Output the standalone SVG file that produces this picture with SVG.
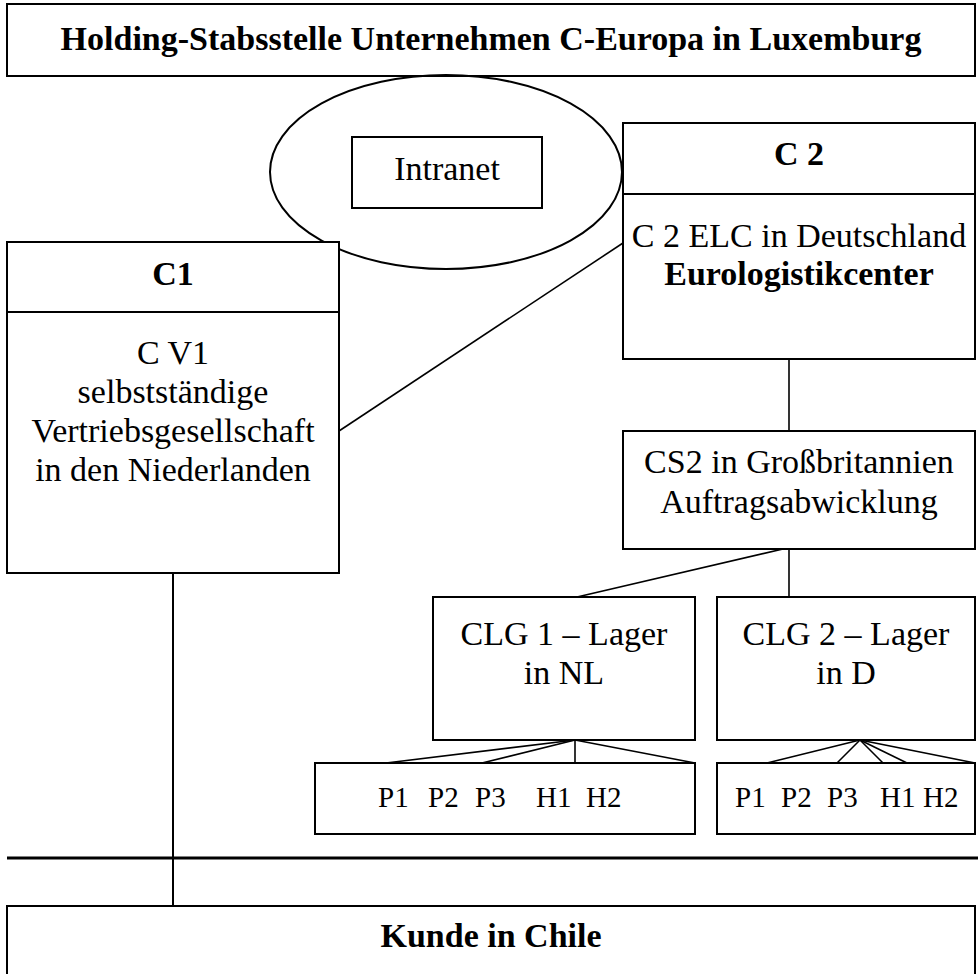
<svg xmlns="http://www.w3.org/2000/svg" width="978" height="974" viewBox="0 0 978 974">
<style>
.box{fill:#fff;stroke:#000;stroke-width:2}
.ln{fill:none;stroke:#000;stroke-width:1.6}
.thick{stroke-width:3}
.med{stroke-width:2}
.t{font-family:"Liberation Serif","Times New Roman",serif;font-size:34px;fill:#000;text-anchor:middle}
.b{font-weight:bold}
.s{font-family:"Liberation Serif","Times New Roman",serif;font-size:29px;fill:#000}
</style>
<rect width="978" height="974" fill="#fff"/>
<g id="holding">
<rect class="box" x="7" y="4" width="968" height="72"/>
<text class="t b" x="491" y="50">Holding-Stabsstelle Unternehmen C-Europa in Luxemburg</text>
</g>
<g id="intranet">
<ellipse class="ln med" cx="446" cy="172" rx="176" ry="97"/>
<rect class="box" x="352" y="137" width="190" height="71"/>
<text class="t" x="447" y="180">Intranet</text>
</g>
<g id="connectors">
<line class="ln" x1="339" y1="431" x2="623" y2="243"/>
<line class="ln" x1="789" y1="359" x2="789" y2="431"/>
<line class="ln" x1="789" y1="549" x2="789" y2="597"/>
<line class="ln" x1="783" y1="549" x2="577" y2="597"/>
<line class="ln" x1="575" y1="740" x2="386" y2="763"/>
<line class="ln" x1="575" y1="740" x2="482" y2="763"/>
<line class="ln" x1="575" y1="740" x2="575" y2="763"/>
<line class="ln" x1="575" y1="740" x2="695" y2="763"/>
<line class="ln" x1="860" y1="740" x2="767" y2="763"/>
<line class="ln" x1="860" y1="740" x2="837" y2="763"/>
<line class="ln" x1="860" y1="740" x2="883" y2="763"/>
<line class="ln" x1="860" y1="740" x2="907" y2="763"/>
<line class="ln" x1="860" y1="740" x2="975" y2="763"/>
<line class="ln med" x1="173" y1="573" x2="173" y2="906"/>
<line class="ln thick" x1="7" y1="858" x2="978" y2="858"/>
</g>
<g id="c1">
<rect class="box" x="7" y="242" width="332" height="331"/>
<line class="ln med" x1="7" y1="312" x2="339" y2="312"/>
<text class="t b" x="173" y="285">C1</text>
<text class="t" x="173" y="364">C V1</text>
<text class="t" x="173" y="403">selbstständige</text>
<text class="t" x="173" y="442">Vertriebsgesellschaft</text>
<text class="t" x="173" y="481">in den Niederlanden</text>
</g>
<g id="c2">
<rect class="box" x="623" y="123" width="352" height="236"/>
<line class="ln med" x1="623" y1="194" x2="975" y2="194"/>
<text class="t b" x="799" y="165">C 2</text>
<text class="t" x="799" y="247">C 2 ELC in Deutschland</text>
<text class="t b" x="799" y="285">Eurologistikcenter</text>
</g>
<g id="cs2">
<rect class="box" x="623" y="431" width="352" height="118"/>
<text class="t" x="799" y="473">CS2 in Großbritannien</text>
<text class="t" x="799" y="513">Auftragsabwicklung</text>
</g>
<g id="clg1">
<rect class="box" x="433" y="597" width="262" height="143"/>
<text class="t" x="564" y="645">CLG 1 – Lager</text>
<text class="t" x="564" y="684">in NL</text>
</g>
<g id="clg2">
<rect class="box" x="717" y="597" width="258" height="143"/>
<text class="t" x="846" y="645">CLG 2 – Lager</text>
<text class="t" x="846" y="684">in D</text>
</g>
<g id="p-nl">
<rect class="box" x="315" y="763" width="380" height="71"/>
<text class="s" y="807"><tspan x="378">P1</tspan><tspan x="428">P2</tspan><tspan x="475">P3</tspan><tspan x="536">H1</tspan><tspan x="586">H2</tspan></text>
</g>
<g id="p-d">
<rect class="box" x="717" y="763" width="258" height="71"/>
<text class="s" y="807"><tspan x="735">P1</tspan><tspan x="781">P2</tspan><tspan x="827">P3</tspan><tspan x="880">H1</tspan><tspan x="923">H2</tspan></text>
</g>
<g id="kunde">
<rect class="box" x="7" y="906" width="968" height="80"/>
<text class="t b" x="491" y="947">Kunde in Chile</text>
</g>
</svg>
